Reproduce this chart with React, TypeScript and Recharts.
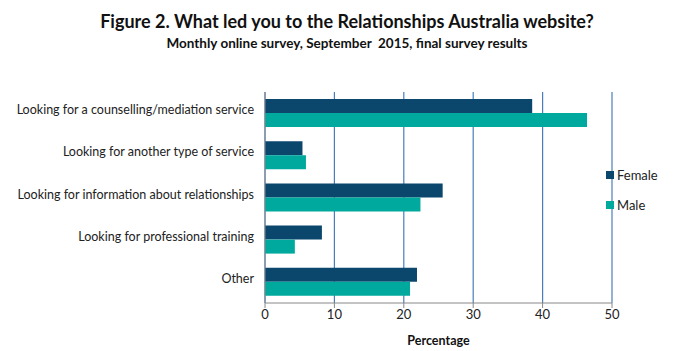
import { Bar, BarChart, CartesianGrid, XAxis, YAxis } from "recharts";

const categories = [
  "Looking for a counselling/mediation service",
  "Looking for another type of service",
  "Looking for information about relationships",
  "Looking for professional training",
  "Other"
];
const female = [38.5, 5.4, 25.6, 8.2, 21.9];
const male = [46.4, 5.9, 22.4, 4.3, 20.9];
const xTicks = [0, 10, 20, 30, 40, 50];

const FEMALE = "#0b466d";
const MALE = "#00a99d";
const font = "Lato, 'Open Sans', sans-serif";

const data = categories.map((name, i) => ({ name, Female: female[i], Male: male[i] }));

function CategoryTick(props: any) {
  const { x, y, payload } = props;
  return (
    <text x={x - 9} y={y} dy={1} textAnchor="end" fill="#222" fontSize={12.5} fontFamily={font}>
      {payload.value}
    </text>
  );
}

function LegendBox() {
  const items = [
    { label: "Female", color: FEMALE },
    { label: "Male", color: MALE }
  ];
  return (
    <div style={{ position: "absolute", left: 606, top: 160, fontFamily: font, fontSize: 13, color: "#222" }}>
      {items.map((it) => (
        <div key={it.label} style={{ display: "flex", alignItems: "center", height: 30 }}>
          <span style={{ width: 8, height: 8, background: it.color, marginRight: 3 }} />
          {it.label}
        </div>
      ))}
    </div>
  );
}

export default function App() {
  return (
    <div style={{ position: "absolute", left: 0, top: 0, width: 694, height: 351, background: "#fff" }}>
      <div style={{ position: "absolute", top: 10, width: 694, textAlign: "center", fontFamily: font, fontWeight: 700, fontSize: 18, color: "#111" }}>
        Figure 2. What led you to the Relationships Australia website?
      </div>
      <div style={{ position: "absolute", top: 35, width: 694, textAlign: "center", fontFamily: font, fontWeight: 700, fontSize: 13.5, color: "#111" }}>
        Monthly online survey, September&nbsp; 2015, final survey results
      </div>
      <BarChart
        width={694}
        height={351}
        data={data}
        layout="vertical"
        barCategoryGap={7}
        barGap={0}
        margin={{ top: 92, right: 82, left: 0, bottom: 0 }}
      >
        <CartesianGrid horizontal={false} stroke="#4a7ebb" strokeWidth={1.2} />
        <XAxis
          type="number"
          domain={[0, 50]}
          ticks={xTicks}
          height={48}
          stroke="#888"
          tickSize={5}
          tick={{ fill: "#222", fontSize: 13, fontFamily: font }}
          label={{ value: "Percentage", position: "insideBottom", offset: 6, fill: "#111", fontSize: 12.5, fontWeight: 700, fontFamily: font }}
        />
        <YAxis
          type="category"
          dataKey="name"
          width={265}
          stroke="#888"
          tickSize={0}
          tick={<CategoryTick />}
        />
        <Bar dataKey="Female" fill={FEMALE} barSize={14} isAnimationActive={false} />
        <Bar dataKey="Male" fill={MALE} barSize={14} isAnimationActive={false} />
      </BarChart>
      <LegendBox />
    </div>
  );
}
